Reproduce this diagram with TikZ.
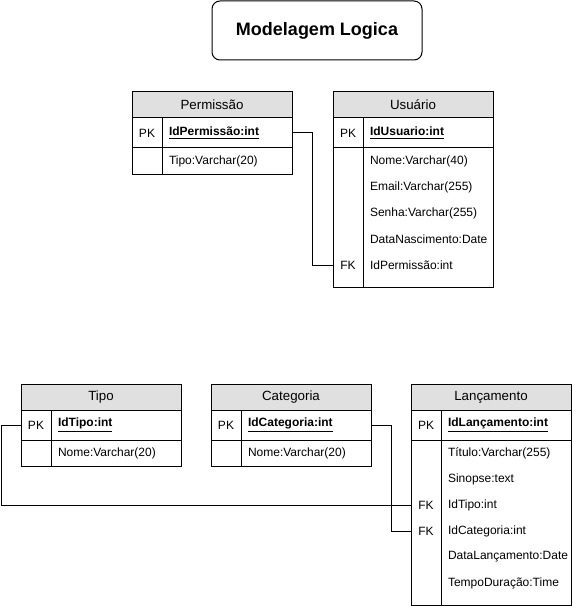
\documentclass[tikz,border=0pt]{standalone}
\usepackage{fontspec}
\setmainfont{Liberation Sans}
\usetikzlibrary{positioning, calc}
\definecolor{headgray}{HTML}{E0E0E0}
\newcommand{\pkfield}[1]{\underline{\textbf{#1}}}

\begin{document}
\begin{tikzpicture}[x=0.75pt, y=-0.75pt, line width=0.75pt,
  every node/.style={inner sep=0pt, outer sep=0pt, font=\fontsize{9}{11}\selectfont},
  titlebox/.style={draw, rounded corners=6pt, minimum width=157.5pt, minimum height=44.25pt, font=\fontsize{13.5}{16}\selectfont\bfseries},
  thead/.style={draw, fill=headgray, minimum width=120pt, minimum height=19.5pt, font=\fontsize{10}{12}\selectfont},
  field/.style={text width=87pt, inner xsep=5.25pt, minimum height=19.5pt, align=left},
  pkrow/.style={minimum height=22.5pt},
  key/.style={minimum width=22.5pt, minimum height=19.5pt}]
\useasboundingbox (0,0) rectangle (572,606);

% Title
\node[titlebox] (titulo) at (317,30.5) {Modelagem Logica};

% Permissao
\node[thead] (perm) at (212,105) {Permissão};
\node[field, pkrow, below right=0pt and 22.5pt of perm.south west] (permId) {\pkfield{IdPermissão:int}};
\node[field, below=0pt of permId] (permTipo) {Tipo:Varchar(20)};
\node[key, left=0pt of permId] (permPK) {PK};
\draw (perm.south west) rectangle (perm.east |- permTipo.south);
\draw (permId.north west) -- (permId.west |- permTipo.south);
\draw (perm.west |- permId.south) -- (permId.south east);

% Usuario
\node[thead] (usr) at (413,105) {Usuário};
\node[field, pkrow, below right=0pt and 22.5pt of usr.south west] (usrId) {\pkfield{IdUsuario:int}};
\node[field, below=0pt of usrId] (usrNome) {Nome:Varchar(40)};
\node[field, below=0pt of usrNome] (usrEmail) {Email:Varchar(255)};
\node[field, below=0pt of usrEmail] (usrSenha) {Senha:Varchar(255)};
\node[field, below=0pt of usrSenha] (usrNasc) {DataNascimento:Date};
\node[field, below=0pt of usrNasc] (usrPerm) {IdPermissão:int};
\node[key, left=0pt of usrId] (usrPK) {PK};
\node[key, left=0pt of usrPerm] (usrFK) {FK};
\draw (usr.south west) rectangle ($(usr.east |- usrPerm.south)+(0,9)$);
\draw (usrId.north west) -- ($(usrId.west |- usrPerm.south)+(0,9)$);
\draw (usr.west |- usrId.south) -- (usrId.south east);

% Tipo
\node[thead] (tipo) at (101,397) {Tipo};
\node[field, pkrow, below right=0pt and 22.5pt of tipo.south west] (tipoId) {\pkfield{IdTipo:int}};
\node[field, below=0pt of tipoId] (tipoNome) {Nome:Varchar(20)};
\node[key, left=0pt of tipoId] (tipoPK) {PK};
\draw (tipo.south west) rectangle (tipo.east |- tipoNome.south);
\draw (tipoId.north west) -- (tipoId.west |- tipoNome.south);
\draw (tipo.west |- tipoId.south) -- (tipoId.south east);

% Categoria
\node[thead] (cat) at (291,397) {Categoria};
\node[field, pkrow, below right=0pt and 22.5pt of cat.south west] (catId) {\pkfield{IdCategoria:int}};
\node[field, below=0pt of catId] (catNome) {Nome:Varchar(20)};
\node[key, left=0pt of catId] (catPK) {PK};
\draw (cat.south west) rectangle (cat.east |- catNome.south);
\draw (catId.north west) -- (catId.west |- catNome.south);
\draw (cat.west |- catId.south) -- (catId.south east);

% Lancamento
\node[thead] (lanc) at (491,397) {Lançamento};
\node[field, pkrow, below right=0pt and 22.5pt of lanc.south west] (lancId) {\pkfield{IdLançamento:int}};
\node[field, below=0pt of lancId] (lancTitulo) {Título:Varchar(255)};
\node[field, below=0pt of lancTitulo] (lancSinopse) {Sinopse:text};
\node[field, below=0pt of lancSinopse] (lancTipo) {IdTipo:int};
\node[field, below=0pt of lancTipo] (lancCat) {IdCategoria:int};
\node[field, below=0pt of lancCat] (lancData) {DataLançamento:Date};
\node[field, below=0pt of lancData] (lancTempo) {TempoDuração:Time};
\node[key, left=0pt of lancId] (lancPK) {PK};
\node[key, left=0pt of lancTipo] (lancFKtipo) {FK};
\node[key, left=0pt of lancCat] (lancFKcat) {FK};
\draw (lanc.south west) rectangle ($(lanc.east |- lancTempo.south)+(0,9)$);
\draw (lancId.north west) -- ($(lancId.west |- lancTempo.south)+(0,9)$);
\draw (lanc.west |- lancId.south) -- (lancId.south east);

% Relations
\draw (permId.east) -- ++(20,0) |- (usrFK.west);
\draw (tipoPK.west) -- ++(-20,0) |- (lancFKtipo.west);
\draw (catId.east) -- ++(20,0) |- (lancFKcat.west);
\end{tikzpicture}
\end{document}
